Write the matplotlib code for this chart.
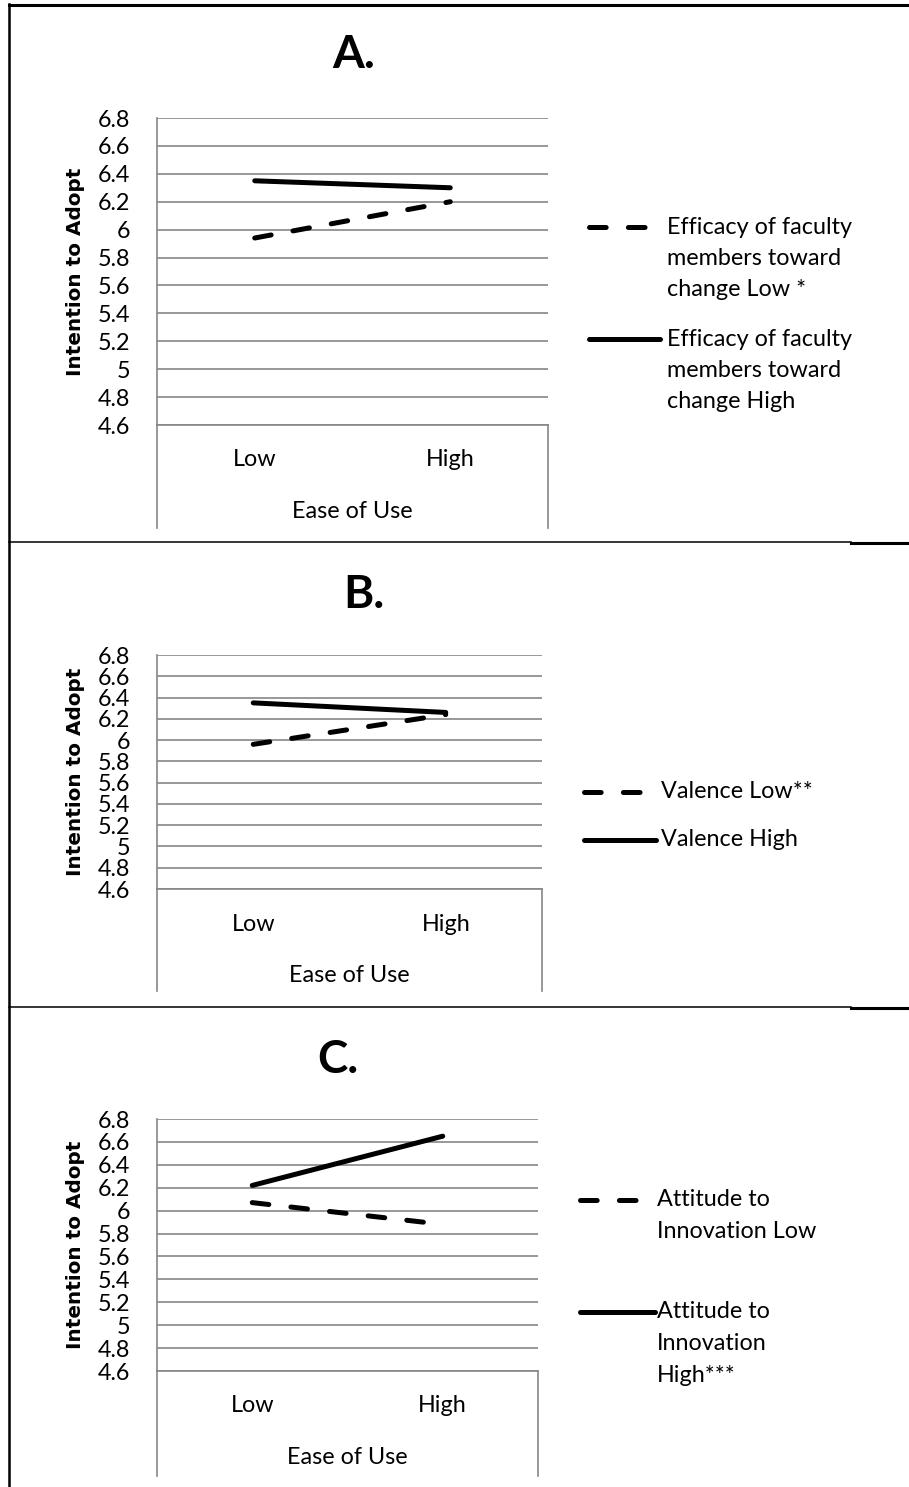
import numpy as np
import matplotlib
matplotlib.use("Agg")
import matplotlib.pyplot as plt
from matplotlib.lines import Line2D

# data
categories = ['Low', 'High']
yticks = [4.6, 4.8, 5.0, 5.2, 5.4, 5.6, 5.8, 6.0, 6.2, 6.4, 6.6, 6.8]
titles = ['A.', 'B.', 'C.']

a_low = [5.94, 6.20]
a_high = [6.35, 6.30]
b_low = [5.96, 6.24]
b_high = [6.35, 6.26]
c_low = [6.07, 5.88]
c_high = [6.22, 6.65]

a_labels = ['Efficacy of faculty\nmembers toward\nchange Low *',
            'Efficacy of faculty\nmembers toward\nchange High']
b_labels = ['Valence Low**', 'Valence High']
c_labels = ['Attitude to\nInnovation Low',
            'Attitude to\nInnovation\nHigh***']

W, H = 909, 1487
FONT = ['Lato', 'DejaVu Sans']
GRID = '#868686'
FS = 16.8

plt.rcParams['font.family'] = FONT
plt.rcParams['lines.scale_dashes'] = False

# pixel layout of each panel
panels = [
    dict(low=a_low, high=a_high, labels=a_labels, title=titles[0], tx=354, ty=55,
         l=157, r=548, t=118, b=425, box=528, cat_y=460, xl_y=512,
         hx0=589, hx1=660, tx0=667, ly=[227, 339]),
    dict(low=b_low, high=b_high, labels=b_labels, title=titles[1], tx=364, ty=595,
         l=157, r=542, t=655, b=889, box=991, cat_y=925, xl_y=975,
         hx0=584, hx1=656, tx0=661, ly=[792, 840]),
    dict(low=c_low, high=c_high, labels=c_labels, title=titles[2], tx=338, ty=1060,
         l=157, r=538, t=1119, b=1371, box=1476, cat_y=1406, xl_y=1457,
         hx0=580, hx1=655, tx0=657, ly=[1200, 1312]),
]

dash = (0, (12, 16))
lw = 3.6


def fx(x):
    return x / W


def fy(y):
    return 1 - y / H


fig = plt.figure(figsize=(W / 100, H / 100), dpi=100)
fig.set_facecolor('white')

for p in panels:
    ax = fig.add_axes([fx(p['l']), fy(p['b']), (p['r'] - p['l']) / W, (p['b'] - p['t']) / H])
    x = np.arange(len(categories))
    ax.plot(x, p['low'], color='black', lw=lw, linestyle=dash, dash_capstyle='round')
    ax.plot(x, p['high'], color='black', lw=lw, solid_capstyle='round')
    ax.set_xlim(-0.5, 1.5)
    ax.set_ylim(4.6, 6.8)
    ax.set_yticks(yticks)
    ax.set_yticklabels([f'{v:g}' for v in yticks])
    ax.set_xticks(x)
    ax.set_xticklabels(categories)
    ax.tick_params(axis='y', length=0, pad=19, labelsize=FS)
    ax.tick_params(axis='x', length=0, pad=(p['cat_y'] - p['b'] - 11) * 0.72, labelsize=FS)
    ax.yaxis.grid(True, color=GRID, lw=1.2)
    ax.set_axisbelow(True)
    for s in ['top', 'right']:
        ax.spines[s].set_visible(False)
    for s in ['left', 'bottom']:
        ax.spines[s].set_color(GRID)
        ax.spines[s].set_linewidth(1.2)
    # category box below the value axis
    ext = (p['box'] - p['b']) / (p['b'] - p['t'])
    for xa in [0, 1]:
        ax.plot([xa, xa], [0, -ext], transform=ax.transAxes, color=GRID, lw=1.2, clip_on=False)
    ax.text(0.5, -(p['xl_y'] - p['b']) / (p['b'] - p['t']), 'Ease of Use', transform=ax.transAxes,
            ha='center', va='center', fontsize=FS)
    ax.set_ylabel('Intention to Adopt', family='DejaVu Sans', fontweight='bold', fontsize=14.4, va='center')
    ax.yaxis.set_label_coords((75.5 - p['l']) / (p['r'] - p['l']), 0.5)

    fig.text(fx(p['tx']), fy(p['ty']), p['title'], ha='center', va='center',
             fontsize=33, fontweight='bold')

    # legend
    for i, (lab, yy) in enumerate(zip(p['labels'], p['ly'])):
        style = dict(linestyle=dash, dash_capstyle='round') if i == 0 else dict(solid_capstyle='round')
        fig.add_artist(Line2D([fx(p['hx0']), fx(p['hx1'])], [fy(yy), fy(yy)], color='black', lw=lw, **style))
        for k, line in enumerate(lab.split('\n')):
            fig.text(fx(p['tx0']), fy(yy + k * 31.5), line, ha='left', va='center', fontsize=FS)

# table borders
fig.add_artist(Line2D([fx(9), fx(9)], [fy(4), fy(H)], color='black', lw=1.8))
fig.add_artist(Line2D([fx(9), fx(W)], [fy(5), fy(5)], color='black', lw=2.2))
for yy in [542, 1007]:
    fig.add_artist(Line2D([fx(9), fx(851)], [fy(yy), fy(yy)], color='black', lw=1.1))
    fig.add_artist(Line2D([fx(851), fx(W)], [fy(yy + 1), fy(yy + 1)], color='black', lw=2.2))

fig.savefig('out.png', dpi=100)
